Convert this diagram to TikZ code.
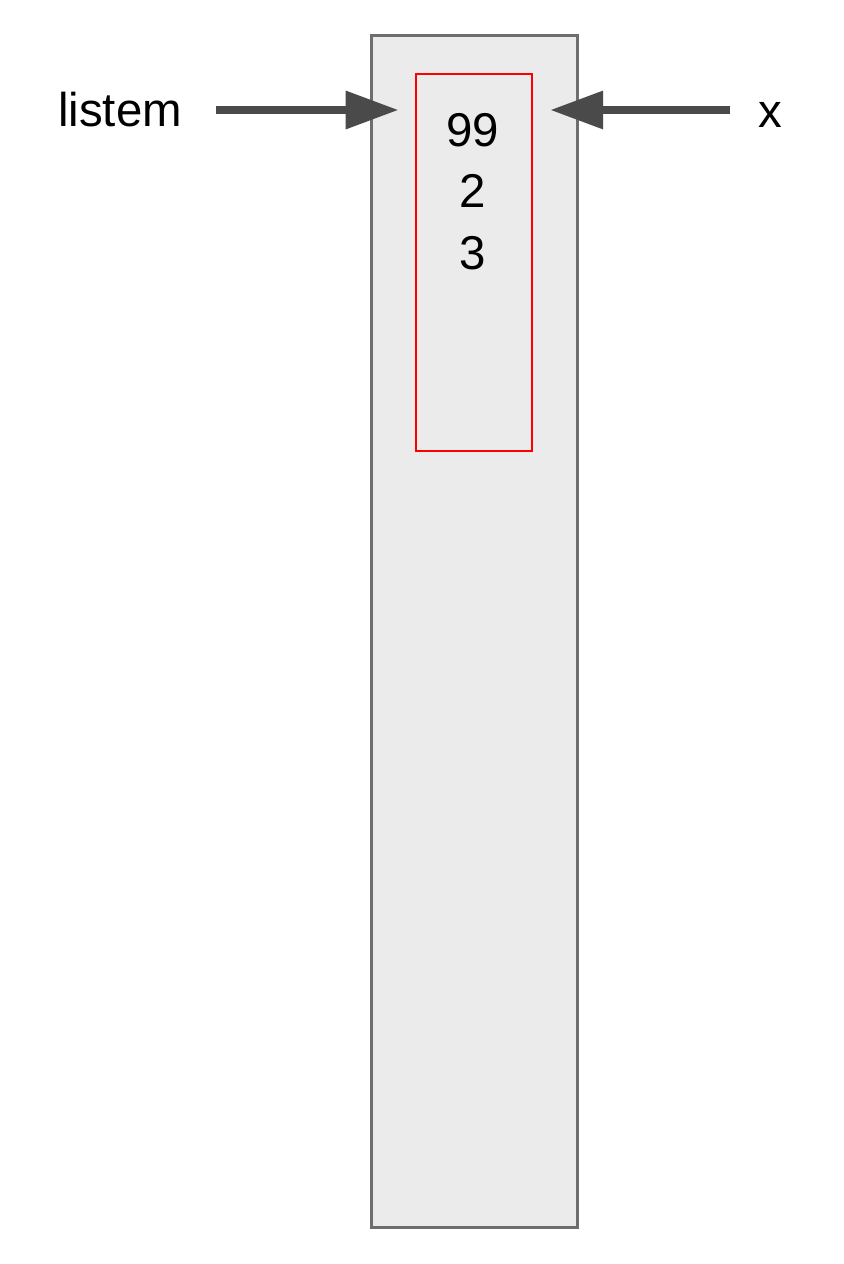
\documentclass[tikz,border=0pt]{standalone}
\usepackage{fontspec}
\setmainfont{Liberation Sans}
\usetikzlibrary{arrows.meta}
\definecolor{boxgray}{HTML}{EBEBEB}
\definecolor{edgegray}{HTML}{6E6E6E}
\definecolor{ptrgray}{HTML}{4A4A4A}
\tikzset{
  stackbox/.style={draw=edgegray, fill=boxgray, line width=1.6pt, inner sep=0pt},
  objbox/.style={draw=red, line width=1.1pt, inner sep=0pt},
  lbl/.style={inner sep=0pt, font=\fontsize{27}{35}\selectfont},
  ptr/.style={draw=ptrgray, line width=4pt, -{Triangle[length=30pt,width=21pt]}}
}
\begin{document}
\begin{tikzpicture}[x=0.02cm,y=-0.02cm]
\useasboundingbox (0,0) rectangle (844,1264);
\node[stackbox, anchor=north west, minimum width=4.12cm, minimum height=23.84cm] (stack) at (370,34) {};
\node[objbox, anchor=north west, minimum width=2.32cm, minimum height=7.54cm] (obj) at (415,73) {};
\node[lbl, align=center, anchor=north] (vals) at (473,113) {99\\2\\3};
\node[lbl] (listem) at (120,110) {listem};
\node[lbl, anchor=base] (x) at (770,128) {x};
\draw[ptr, shorten <=19pt, shorten >=9.5pt] (listem.east) -- (obj.west |- listem.east);
\draw[ptr, shorten <=16pt, shorten >=10pt] (x.west |- listem.east) -- (obj.east |- listem.east);
\end{tikzpicture}
\end{document}
